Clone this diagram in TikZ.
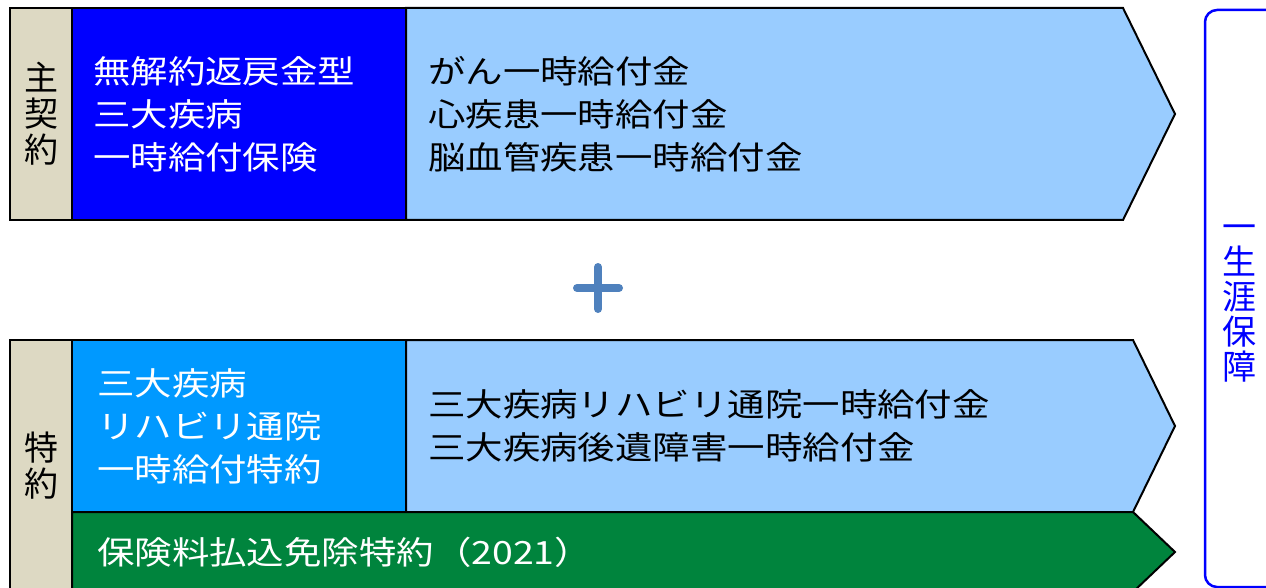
\documentclass[tikz,border=0pt]{standalone}
\usepackage{fontspec}
\setmainfont{Noto Sans CJK JP}[FakeStretch=1.17]
\newfontfamily\tatefont{Noto Sans CJK JP}
\usetikzlibrary{positioning}

\definecolor{tabtan}{RGB}{221,217,195}
\definecolor{mainblue}{RGB}{0,0,255}
\definecolor{ridblue}{RGB}{0,153,255}
\definecolor{paleblue}{RGB}{153,204,255}
\definecolor{waivegreen}{RGB}{0,132,61}
\definecolor{plusblue}{RGB}{79,129,189}

\tikzset{
    kindtab/.style={draw, fill=tabtan, line width=2pt,
        minimum width=62pt, inner sep=0pt, outer sep=0pt,
        align=center, font=\tatefont\fontsize{34}{36}\selectfont},
    planbox/.style={draw, line width=2pt,
        minimum width=334pt, inner sep=0pt, outer sep=0pt},
    benefit/.style={draw, fill=paleblue, line width=2pt, line join=miter},
    whitetxt/.style={text=white, align=left, inner sep=0pt, anchor=west,
        font=\fontsize{32}{43}\selectfont},
    blacktxt/.style={text=black, align=left, inner sep=0pt, anchor=west,
        font=\fontsize{32}{43}\selectfont}
}

\begin{document}
\begin{tikzpicture}[x=1pt, y=-1pt]
    \useasboundingbox (0,0) rectangle (1266,588);
    \clip (0,0) rectangle (1266,588);

    % main contract %
    \node [kindtab,
        minimum height=212pt,
        anchor=north west
    ] (maintab) at (10,8) {主\\契\\約};

    \node [planbox,
        fill=mainblue,
        minimum height=212pt,
        right=0pt of maintab
    ] (mainplan) {};

    \draw [benefit] (mainplan.north east) -- (1123,8) -- (1175,114)
        -- (1123,220) -- (mainplan.south east) -- cycle;

    \node [whitetxt] (mainname) at (93,114)
        {無解約返戻金型\\三大疾病\\一時給付保険};
    \node [blacktxt] (mainpay) at (428,114)
        {がん一時給付金\\心疾患一時給付金\\脳血管疾患一時給付金};

    % plus %
    \coordinate (plus) at (598,288);
    \draw [plusblue, line width=8pt, line cap=round]
        ([xshift=-21pt]plus) -- ([xshift=21pt]plus)
        ([yshift=-21pt]plus) -- ([yshift=21pt]plus);

    % riders %
    \node [kindtab,
        minimum height=252pt,
        anchor=north west
    ] (ridertab) at (10,340) {特\\約};

    \node [planbox,
        fill=ridblue,
        minimum height=172pt,
        anchor=north west
    ] (riderplan) at (ridertab.north east) {};

    \draw [benefit] (riderplan.north east) -- (1133,340) -- (1175,426)
        -- (1133,512) -- (riderplan.south east) -- cycle;

    \draw [benefit, fill=waivegreen] (riderplan.south west) -- (1133,512)
        -- (1175,552) -- (1133,592) -- (ridertab.south east) -- cycle;

    \node [whitetxt] (ridername) at (97,426)
        {三大疾病\\リハビリ通院\\一時給付特約};
    \node [blacktxt] (riderpay) at (428,426)
        {三大疾病リハビリ通院一時給付金\\三大疾病後遺障害一時給付金};
    \node [whitetxt] (waiver) at (97,552) {保険料払込免除特約（2021）};

    % lifetime bracket %
    \draw [mainblue, line width=2.5pt, rounded corners=12pt]
        (1205,10) rectangle (1300,587);
    \node [text=mainblue, align=center, inner sep=0pt,
        font=\tatefont\fontsize{34}{35}\selectfont
    ] (lifetime) at (1239,304) {一\\生\\涯\\保\\障};
\end{tikzpicture}
\end{document}
